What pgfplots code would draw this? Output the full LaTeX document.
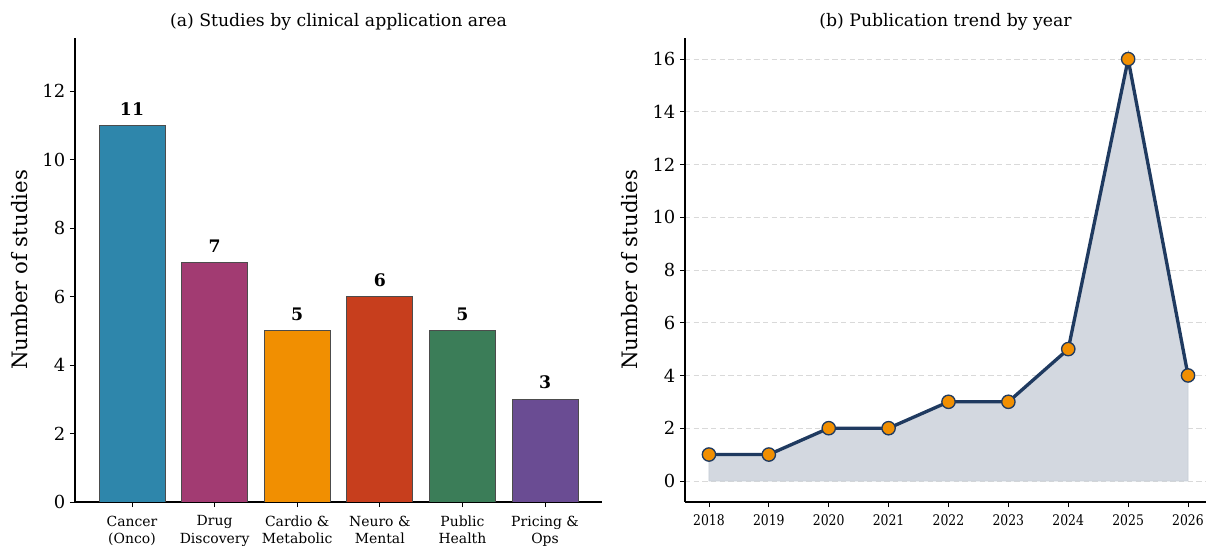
\documentclass[border=0pt]{standalone}
\usepackage{pgfplots}
\pgfplotsset{compat=1.18}
\usepackage{fontspec}
\setmainfont{DejaVu Serif}
\newfontfamily\condserif{DejaVu Serif}[FakeStretch=0.85]
\definecolor{cA}{HTML}{2E86AB}
\definecolor{cB}{HTML}{A23B72}
\definecolor{cC}{HTML}{F18F01}
\definecolor{cD}{HTML}{C73E1D}
\definecolor{cE}{HTML}{3B7D58}
\definecolor{cF}{HTML}{6A4C93}
\definecolor{navy}{HTML}{1F3A60}
\definecolor{areaf}{HTML}{D3D8E0}
\begin{document}
\begin{tikzpicture}
\pgfplotsset{
  common/.style={
    scale only axis,
    axis x line*=bottom, axis y line*=left,
    tick align=outside,
    major tick length=3.75bp,
    every tick/.style={black, line width=0.6bp},
    axis line style={line width=0.8bp},
    /pgf/number format/assume math mode=true,
    /pgf/number format/1000 sep={},
    yticklabel style={font=\fontsize{13.5}{15}\selectfont},
    ylabel style={font=\fontsize{16}{19}\selectfont, yshift=4.5bp},
    title style={font=\fontsize{13}{15}\selectfont, yshift=-3.5bp},
    height=348bp,
  }
}
\begin{axis}[common,
  at={(56.25bp,33bp)}, anchor=south west,
  width=395.25bp,
  xmin=-0.69, xmax=5.69, ymin=0, ymax=13.55,
  ytick={0,2,...,12},
  xtick={0,...,5},
  xticklabels={Cancer\\(Onco), Drug\\Discovery, Cardio \&\\Metabolic, Neuro \&\\Mental, Public\\Health, Pricing \&\\Ops},
  xticklabel style={font=\fontsize{10.5}{13}\selectfont, align=center, yshift=-3bp},
  ylabel={Number of studies},
  title={(a) Studies by clinical application area},
  ybar, bar width=0.8, bar shift=0pt,
  nodes near coords,
  every node near coord/.style={font=\bfseries\fontsize{13}{15}\selectfont, black, yshift=4bp},
]
\addplot[fill=cA, draw=black!70, line width=0.6bp] coordinates {(0,11)};
\addplot[fill=cB, draw=black!70, line width=0.6bp] coordinates {(1,7)};
\addplot[fill=cC, draw=black!70, line width=0.6bp] coordinates {(2,5)};
\addplot[fill=cD, draw=black!70, line width=0.6bp] coordinates {(3,6)};
\addplot[fill=cE, draw=black!70, line width=0.6bp] coordinates {(4,5)};
\addplot[fill=cF, draw=black!70, line width=0.6bp] coordinates {(5,3)};
\end{axis}
\begin{axis}[common,
  at={(513.75bp,33bp)}, anchor=south west,
  width=390.75bp,
  xmin=2017.6, xmax=2026.3, ymin=-0.8, ymax=16.8,
  ytick={0,2,...,16},
  xtick={2018,...,2026},
  xticklabel style={font=\condserif\fontsize{11}{13}\selectfont, yshift=-2.5bp},
  ymajorgrids, grid style={dash pattern=on 4bp off 2.5bp, gray!30, line width=0.6bp},
  ylabel={Number of studies},
  title={(b) Publication trend by year},
]
\addplot[fill=areaf, draw=navy!25, line width=0.6bp] coordinates {
(2018,1) (2019,1) (2020,2) (2021,2) (2022,3) (2023,3) (2024,5) (2025,16) (2026,4)} \closedcycle;
\addplot[navy, line width=2.5bp, mark=*, mark size=5bp,
  mark options={fill=cC, draw=navy, line width=1bp}] coordinates {
(2018,1) (2019,1) (2020,2) (2021,2) (2022,3) (2023,3) (2024,5) (2025,16) (2026,4)};
\end{axis}
\pgfresetboundingbox
\path (0,0) rectangle (904.5bp,409.5bp);
\end{tikzpicture}
\end{document}
